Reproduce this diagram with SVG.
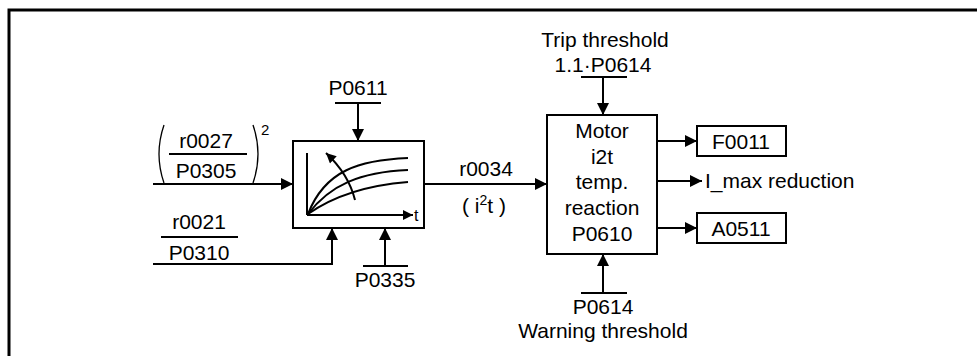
<svg xmlns="http://www.w3.org/2000/svg" width="977" height="356" viewBox="0 0 977 356">
<defs>
<marker id="ah" viewBox="0 0 10 10" refX="10" refY="5" markerWidth="13" markerHeight="12" markerUnits="userSpaceOnUse" orient="auto">
<path d="M0,0 L10,5 L0,10 Z" fill="#000"/>
</marker>
<marker id="ahs" viewBox="0 0 10 10" refX="10" refY="5" markerWidth="11" markerHeight="10" markerUnits="userSpaceOnUse" orient="auto">
<path d="M0,0 L10,5 L0,10 Z" fill="#000"/>
</marker>
</defs>
<style>
text{font-family:"Liberation Sans",Arial,sans-serif;font-size:21px;fill:#000}
.c{text-anchor:middle}
.box{fill:#fff;stroke:#000;stroke-width:2}
.ln{fill:none;stroke:#000;stroke-width:2}
.ar{fill:none;stroke:#000;stroke-width:2;marker-end:url(#ah)}
</style>
<rect width="977" height="356" fill="#fff"/>
<path d="M9,356 V10 H977" fill="none" stroke="#000" stroke-width="3"/>

<g id="input1">
<text class="c" x="206" y="148">r0027</text>
<line class="ln" x1="169" y1="154" x2="247" y2="154"/>
<text class="c" x="206" y="178">P0305</text>
<path d="M164,125 Q154,154 164,183" fill="none" stroke="#000" stroke-width="1.3"/>
<path d="M253,125 Q263,154 253,183" fill="none" stroke="#000" stroke-width="1.3"/>
<text x="261" y="135" style="font-size:15px">2</text>
</g>

<g id="input2">
<text class="c" x="199" y="229">r0021</text>
<line class="ln" x1="161" y1="237" x2="238" y2="237"/>
<text class="c" x="199" y="260">P0310</text>
</g>

<g id="p0611">
<text class="c" x="358" y="95">P0611</text>
<line class="ln" x1="335" y1="103" x2="381" y2="103"/>
</g>

<g id="p0335">
<line class="ln" x1="363" y1="266" x2="408" y2="266"/>
<text class="c" x="385" y="287">P0335</text>
</g>

<g id="model">
<rect class="box" x="293" y="141" width="131" height="87"/>
<line class="ln" x1="307" y1="153" x2="307" y2="215"/>
<line x1="307" y1="215" x2="413" y2="215" stroke="#000" stroke-width="2" marker-end="url(#ahs)"/>
<text x="414" y="221" style="font-size:16px">t</text>
<path d="M308,214 C325,170 360,160 408,158" class="ln"/>
<path d="M308,214 C330,185 360,172 408,170" class="ln"/>
<path d="M308,214 C335,195 370,185 408,182" class="ln"/>
<path d="M355,200 C350,180 340,166 326,153" fill="none" stroke="#000" stroke-width="2" marker-end="url(#ahs)"/>
</g>

<g id="trip">
<text class="c" x="605" y="47">Trip threshold</text>
<text class="c" x="603" y="72">1.1·P0614</text>
<line class="ln" x1="581" y1="77" x2="627" y2="77"/>
</g>

<g id="motor">
<rect class="box" x="547" y="115" width="110" height="139"/>
<text class="c" x="602" y="138">Motor</text>
<text class="c" x="602" y="164">i2t</text>
<text class="c" x="602" y="189">temp.</text>
<text class="c" x="602" y="215">reaction</text>
<text class="c" x="602" y="241">P0610</text>
</g>

<g id="r0034">
<text class="c" x="486" y="176">r0034</text>
<text class="c" x="484" y="213">( i<tspan dy="-8" style="font-size:14px">2</tspan><tspan dy="8">t )</tspan></text>
</g>

<g id="f0011">
<rect class="box" x="697" y="126" width="89" height="30"/>
<text class="c" x="741" y="149">F0011</text>
</g>

<g id="imax">
<text x="705" y="188">I_max reduction</text>
</g>

<g id="a0511">
<rect class="box" x="697" y="213" width="89" height="30"/>
<text class="c" x="741" y="236">A0511</text>
</g>

<g id="warn">
<line class="ln" x1="581" y1="293" x2="627" y2="293"/>
<text class="c" x="603" y="314">P0614</text>
<text class="c" x="603" y="338">Warning threshold</text>
</g>

<g id="connectors">
<line class="ar" x1="153" y1="184" x2="293" y2="184"/>
<path class="ar" d="M153,264 H332 V228"/>
<line class="ar" x1="385" y1="266" x2="385" y2="228"/>
<line class="ar" x1="358" y1="103" x2="358" y2="141"/>
<line class="ar" x1="424" y1="184" x2="547" y2="184"/>
<line class="ar" x1="603" y1="77" x2="603" y2="115"/>
<line class="ar" x1="657" y1="141" x2="697" y2="141"/>
<line class="ar" x1="657" y1="181" x2="702" y2="181"/>
<line class="ar" x1="657" y1="228" x2="697" y2="228"/>
<line class="ar" x1="603" y1="293" x2="603" y2="254"/>
</g>
</svg>
